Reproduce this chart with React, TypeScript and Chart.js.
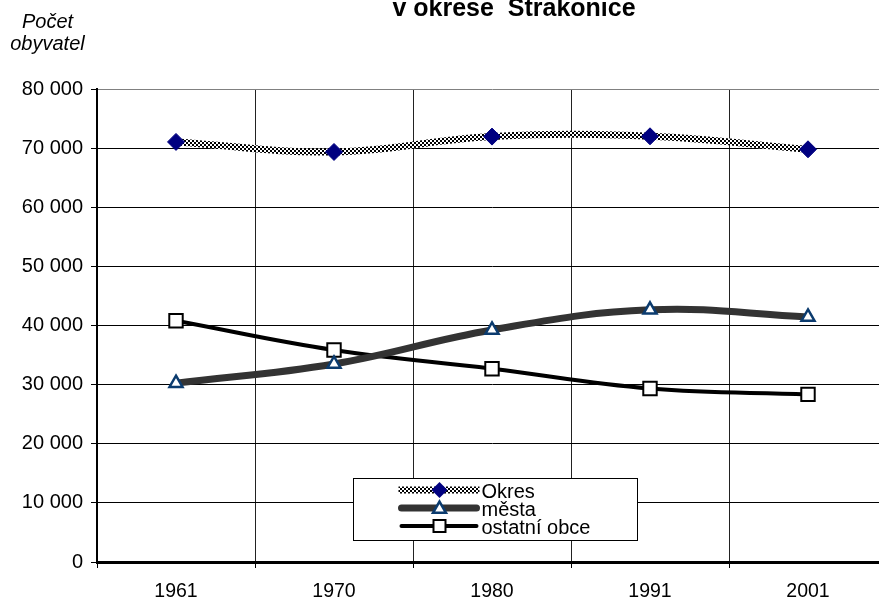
import React, { useEffect, useRef } from "react";
import { Chart, registerables } from "chart.js";

Chart.register(...registerables);

const years = ["1961", "1970", "1980", "1991", "2001"];
const okres = [71050, 69350, 71950, 72000, 69800];
const mesta = [30250, 33500, 39250, 42650, 41450];
const ostatni = [40800, 35850, 32700, 29350, 28350];
const seriesNames = ["Okres", "města", "ostatní obce"];
const titleText = "v okrese  Strakonice";
const yTitleLines = ["Počet", "obyvatel"];

const FONT = 'Arial, "Liberation Sans", sans-serif';

function fmt(v: number) {
  return String(v).replace(/\B(?=(\d{3})+(?!\d))/g, " ");
}

function makePattern(): CanvasPattern | string {
  const pc = document.createElement("canvas");
  pc.width = 4;
  pc.height = 4;
  const c = pc.getContext("2d");
  if (!c) return "#888";
  c.fillStyle = "#fff";
  c.fillRect(0, 0, 4, 4);
  c.fillStyle = "#000";
  c.fillRect(0, 0, 2, 2);
  c.fillRect(2, 2, 2, 2);
  return c.createPattern(pc, "repeat") || "#888";
}

function drawDiamond(ctx: CanvasRenderingContext2D, x: number, y: number, r: number, color: string) {
  ctx.beginPath();
  ctx.moveTo(x - r, y);
  ctx.lineTo(x, y - r);
  ctx.lineTo(x + r, y);
  ctx.lineTo(x, y + r);
  ctx.closePath();
  ctx.fillStyle = color;
  ctx.fill();
}

function drawTriangle(ctx: CanvasRenderingContext2D, x: number, y: number, r: number, color: string, lw: number) {
  ctx.beginPath();
  for (let i = 0; i < 3; i++) {
    const a = (i * 2 * Math.PI) / 3;
    const px = x + Math.sin(a) * r;
    const py = y - Math.cos(a) * r;
    if (i === 0) ctx.moveTo(px, py);
    else ctx.lineTo(px, py);
  }
  ctx.closePath();
  ctx.fillStyle = "#fff";
  ctx.fill();
  ctx.strokeStyle = color;
  ctx.lineWidth = lw;
  ctx.stroke();
}

function drawSquare(ctx: CanvasRenderingContext2D, x: number, y: number, half: number, color: string, lw: number) {
  ctx.beginPath();
  ctx.rect(x - half, y - half, half * 2, half * 2);
  ctx.fillStyle = "#fff";
  ctx.fill();
  ctx.strokeStyle = color;
  ctx.lineWidth = lw;
  ctx.stroke();
}

export default function App() {
  const ref = useRef<HTMLCanvasElement | null>(null);

  useEffect(() => {
    if (!ref.current) return;
    const pattern = makePattern();

    const legendPlugin = {
      id: "customLegend",
      afterDraw(chart: any) {
        const ctx: CanvasRenderingContext2D = chart.ctx;
        const ca = chart.chartArea;
        const bx = ca.left + 256.5;
        const by = ca.bottom - 83.5;
        const bw = 284;
        const bh = 62;
        ctx.save();
        ctx.fillStyle = "#fff";
        ctx.fillRect(bx, by, bw, bh);
        ctx.strokeStyle = "#000";
        ctx.lineWidth = 1;
        ctx.strokeRect(bx, by, bw, bh);
        const rows = [by + 11.5, by + 29.5, by + 47.5];
        const lx1 = bx + 45;
        const lx2 = bx + 126;
        const mx = bx + 86;
        ctx.font = `20px ${FONT}`;
        ctx.textBaseline = "alphabetic";
        ctx.textAlign = "left";
        chart.data.datasets.forEach((ds: any, i: number) => {
          const y = rows[i];
          ctx.beginPath();
          ctx.moveTo(lx1 + (i === 0 ? 0 : 3), y);
          ctx.lineTo(lx2 - (i === 0 ? 0 : 3), y);
          ctx.strokeStyle = ds.borderColor;
          ctx.lineWidth = i === 2 ? 4 : 7;
          ctx.lineCap = i === 0 ? "butt" : "round";
          ctx.stroke();
          ctx.lineCap = "butt";
          if (i === 0) drawDiamond(ctx, mx, y, 8, "#000080");
          if (i === 1) drawTriangle(ctx, mx, y + 1, 7.5, "#0b3b6e", 2.5);
          if (i === 2) drawSquare(ctx, mx, y, 6, "#000", 2);
          ctx.fillStyle = "#000";
          ctx.fillText(seriesNames[i], lx2 + 2, y + 7.5);
        });
        ctx.restore();
      },
    };

    const chart = new Chart(ref.current, {
      type: "line",
      data: {
        labels: years,
        datasets: [
          {
            label: seriesNames[0],
            data: okres,
            borderColor: pattern as any,
            borderWidth: 7,
            tension: 0.4,
            pointStyle: "rectRot",
            pointRadius: 8.5,
            pointBackgroundColor: "#000080",
            pointBorderColor: "#000080",
            pointBorderWidth: 1,
          },
          {
            label: seriesNames[1],
            data: mesta,
            borderColor: "#333333",
            borderWidth: 7,
            tension: 0.4,
            pointStyle: "triangle",
            pointRadius: 7.5,
            pointBackgroundColor: "#ffffff",
            pointBorderColor: "#0b3b6e",
            pointBorderWidth: 2.5,
          },
          {
            label: seriesNames[2],
            data: ostatni,
            borderColor: "#000000",
            borderWidth: 4,
            tension: 0.4,
            pointStyle: "rect",
            pointRadius: 9.5,
            pointBackgroundColor: "#ffffff",
            pointBorderColor: "#000000",
            pointBorderWidth: 2,
          },
        ],
      },
      options: {
        responsive: false,
        animation: false,
        devicePixelRatio: 1,
        layout: { padding: { top: 89, right: 13, left: 0, bottom: 0 } },
        plugins: {
          legend: { display: false },
          title: { display: false },
          tooltip: { enabled: false },
        },
        scales: {
          x: {
            offset: true,
            grid: {
              offset: true,
              color: "#222222",
              lineWidth: 1,
              tickLength: 6,
              tickColor: "#000",
            },
            border: { color: "#000", width: 3 },
            ticks: {
              color: "#000",
              font: { family: FONT, size: 19.5 },
              padding: 12,
              maxRotation: 0,
            },
            afterFit: (s: any) => {
              s.height = 37;
            },
          },
          y: {
            min: 0,
            max: 80000,
            grid: {
              color: (c: any) => (c.tick && c.tick.value === 80000 ? "#808080" : "#000000"),
              lineWidth: 1,
              tickLength: 6,
              tickColor: "#000",
            },
            border: { color: "#000", width: 2 },
            ticks: {
              stepSize: 10000,
              color: "#000",
              font: { family: FONT, size: 20 },
              padding: 8,
              callback: (v: any) => fmt(Number(v)),
            },
            afterFit: (s: any) => {
              s.width = 97;
            },
          },
        },
      },
      plugins: [legendPlugin],
    });
    return () => chart.destroy();
  }, []);

  return (
    <div
      style={{
        position: "fixed",
        left: 0,
        top: 0,
        width: 879,
        height: 599,
        overflow: "hidden",
        background: "#fff",
      }}
    >
      <canvas ref={ref} width={900} height={599} style={{ width: 900, height: 599, display: "block" }} />
      <div
        style={{
          position: "absolute",
          left: 314,
          top: -5,
          width: 400,
          textAlign: "center",
          font: `bold 25px ${FONT}`,
          lineHeight: "24px",
          whiteSpace: "pre",
          color: "#000",
        }}
      >
        {titleText}
      </div>
      <div
        style={{
          position: "absolute",
          left: 0,
          top: 10,
          width: 95,
          textAlign: "center",
          font: `italic 20px ${FONT}`,
          lineHeight: "22px",
          color: "#000",
        }}
      >
        {yTitleLines.map((t) => (
          <div key={t}>{t}</div>
        ))}
      </div>
    </div>
  );
}
